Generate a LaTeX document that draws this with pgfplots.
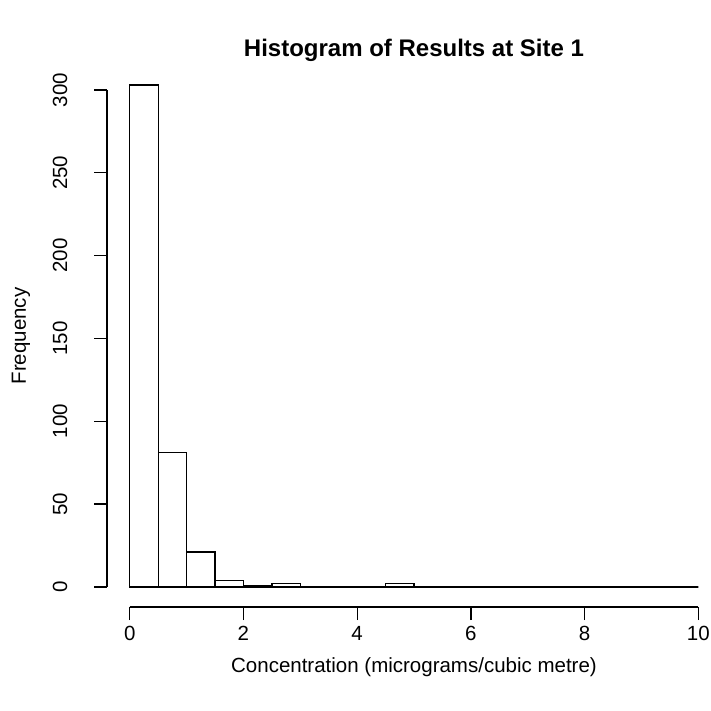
\documentclass[border=0pt]{standalone}
\usepackage{fontspec}
\setmainfont{Liberation Sans}
\usepackage{pgfplots}
\pgfplotsset{compat=1.18}
\begin{document}
\begin{tikzpicture}[x=1pt,y=1pt]
\useasboundingbox (0,0) rectangle (710,711);
\begin{axis}[
  at={(107pt,104pt)}, anchor=south west,
  scale only axis, width=614pt, height=542pt,
  xmin=-0.4, xmax=10.4, ymin=-12.12, ymax=315.12,
  clip=false,
  axis line style={draw=none},
  xtick={0,2,...,10}, ytick={0,50,...,300},
  xtick pos=bottom, ytick pos=left, tick align=outside,
  major tick length=13pt,
  xtick style={draw=black, line width=1.3pt},
  ytick style={draw=black, line width=1.3pt},
  /pgf/number format/assume math mode=true,
  tick label style={font=\fontsize{20.5}{24}\selectfont},
  xticklabel style={anchor=base, inner sep=0pt, yshift=-20pt},
  yticklabel style={anchor=base, inner sep=0pt, xshift=-27pt, rotate=90},
  xlabel={Concentration (micrograms/cubic metre)},
  ylabel={Frequency},
  every axis x label/.style={at={(axis description cs:0.5,0)}, anchor=base,
    inner sep=0pt, yshift=-66pt, font=\fontsize{20.5}{24}\selectfont},
  every axis y label/.style={at={(axis description cs:0,0.5)}, xshift=-81pt,
    rotate=90, anchor=base, inner sep=0pt, font=\fontsize{20.5}{24}\selectfont},
  title={Histogram of Results at Site 1},
  every axis title/.style={at={(axis description cs:0.5,1)}, anchor=base,
    inner sep=0pt, yshift=8pt, font=\bfseries\fontsize{24}{28}\selectfont},
]
% counts per 0.5-wide bin from 0 to 10 (last point closes the final interval)
\addplot[ybar interval, fill=white, draw=black, line width=1.3pt] coordinates {
  (0,303) (0.5,81) (1,21) (1.5,4) (2,1) (2.5,2) (3,0) (3.5,0) (4,0) (4.5,2)
  (5,0) (5.5,0) (6,0) (6.5,0) (7,0) (7.5,0) (8,0) (8.5,0) (9,0) (9.5,0) (10,0)
};
% axis lines spanning only the tick range, with outward x ticks
\draw[line width=1.3pt] (axis cs:0,-12.12) -- (axis cs:10,-12.12);
\draw[line width=1.3pt] (axis cs:-0.4,0) -- (axis cs:-0.4,300);
\pgfplotsinvokeforeach{0,2,4,6,8,10}{
  \draw[line width=1.3pt] (axis cs:#1,-12.12) -- ++(0pt,-13pt);
}
\end{axis}
\end{tikzpicture}
\end{document}
